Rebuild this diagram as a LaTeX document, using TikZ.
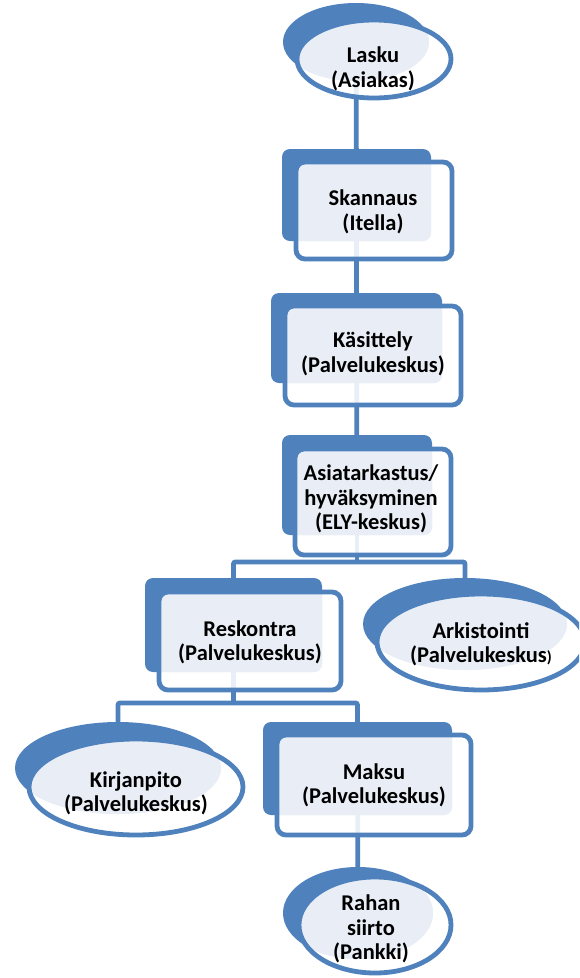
\documentclass[tikz,border=0pt]{standalone}
\usepackage{fontspec}
\setmainfont{Carlito}
\usetikzlibrary{shapes.geometric,calc}
\definecolor{ocean}{HTML}{4F81BD}
\definecolor{mist}{HTML}{E9EEF6}
\pgfdeclarelayer{background}
\pgfsetlayers{background,main}
\begin{document}
\begin{tikzpicture}[x=1pt,y=-1pt,
  every node/.style={inner sep=0pt, outer sep=0pt},
  % dark plate behind each step
  backbox/.style={rectangle, rounded corners=8pt, fill=ocean},
  backoval/.style={ellipse, fill=ocean},
  % outlined plate in front; its face shows the light part where it covers the dark plate
  frontbox/.style={rectangle, rounded corners=9pt, draw=ocean, line width=4.8pt,
    fill=white, fill opacity=.88,
    path picture={\fill[mist, fill opacity=1, rounded corners=8pt]
      (#1.south west) rectangle (#1.north east);}},
  frontoval/.style={ellipse, draw=ocean, line width=4.8pt,
    fill=white, fill opacity=.88,
    path picture={\path[fill=mist, fill opacity=1]
      let \p1=($(#1.east)-(#1.center)$), \p2=($(#1.north)-(#1.center)$) in
      (#1.center) ellipse [x radius=\x1, y radius=\y2];}},
  steptext/.style={align=center, font=\bfseries\fontsize{22.5}{24.5}\selectfont},
  conn/.style={draw=ocean, line width=4.8pt},
]
\useasboundingbox (0,0) rectangle (579,978);
\clip (0,0) rectangle (579,978);

% Lasku
\node[backoval, minimum width=146, minimum height=78] (laB) at (356,42) {};
\node[frontoval=laB, minimum width=154, minimum height=78] (laF) at (374,59) {};
\node[steptext] (laT) at (373,69) {Lasku\\(Asiakas)};

% Skannaus
\node[backbox, minimum width=149, minimum height=92] (skB) at (356.5,195) {};
\node[frontbox=skB, minimum width=156, minimum height=97] (skF) at (374,210.5) {};
\node[steptext] (skT) at (373,212) {Skannaus\\(Itella)};

% Käsittely
\node[backbox, minimum width=171, minimum height=90] (kaB) at (356.5,338) {};
\node[frontbox=kaB, minimum width=176, minimum height=99] (kaF) at (373,355.5) {};
\node[steptext] (kaT) at (373,354) {Käsittely\\(Palvelukeskus)};

% Asiatarkastus
\node[backbox, minimum width=150, minimum height=100] (asB) at (357,485) {};
\node[frontbox=asB, minimum width=156, minimum height=106] (asF) at (373,502) {};
\node[steptext] (asT) at (371,499) {Asiatarkastus/\\hyväksyminen\\(ELY-keskus)};

% Reskontra
\node[backbox, minimum width=177, minimum height=94] (reB) at (233.5,625) {};
\node[frontbox=reB, minimum width=182, minimum height=98] (reF) at (250,641) {};
\node[steptext] (reT) at (250,642.5) {Reskontra\\(Palvelukeskus)};

% Arkistointi
\node[backoval, minimum width=204, minimum height=92] (arB) at (465,624) {};
\node[frontoval=arB, minimum width=208, minimum height=96] (arF) at (481,642) {};
\node[steptext] (arT) at (481,644.5) {Arkistointi\\(Palvelukeskus{\fontsize{16}{16}\selectfont)}};

% Kirjanpito
\node[backoval, minimum width=206, minimum height=92] (kiB) at (118,768) {};
\node[frontoval=kiB, minimum width=214, minimum height=96] (kiF) at (136,787) {};
\node[steptext] (kiT) at (136,793.5) {Kirjanpito\\(Palvelukeskus)};

% Maksu
\node[backbox, minimum width=189, minimum height=93] (maB) at (357.5,768.5) {};
\node[frontbox=maB, minimum width=194, minimum height=100] (maF) at (374,785) {};
\node[steptext] (maT) at (374,785.5) {Maksu\\(Palvelukeskus)};

% Rahan siirto
\node[backoval, minimum width=150, minimum height=92] (raB) at (358,913) {};
\node[frontoval=raB, minimum width=152, minimum height=96] (raF) at (375,925) {};
\node[steptext] (raT) at (371,929) {Rahan\\siirto\\(Pankki)};

% branch points
\coordinate (forkA) at (357,562);
\coordinate (forkB) at (233.5,703);

% connectors run behind the plates
\begin{pgfonlayer}{background}
  \draw[conn] (laB.center) -- (skB.center);
  \draw[conn] (skB.center) -- (kaB.center);
  \draw[conn] (kaB.center) -- (asB.center);
  \draw[conn] (asB.center) -- (forkA);
  \draw[conn, rounded corners=2pt] (reB.center) |- (forkA) -| (arB.center);
  \draw[conn] (reB.center) -- (forkB);
  \draw[conn, rounded corners=2pt] (kiB.center) |- (forkB) -| (maB.center);
  \draw[conn] (maB.center) -- (raB.center);
\end{pgfonlayer}
\end{tikzpicture}
\end{document}
